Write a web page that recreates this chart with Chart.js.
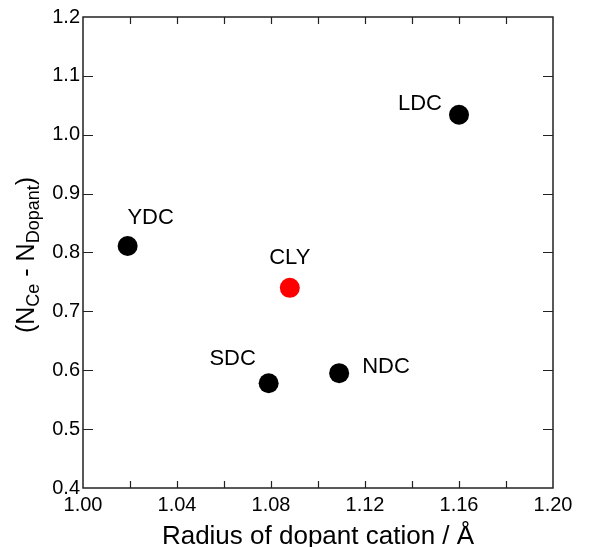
<!DOCTYPE html>
<html>
<head>
<meta charset="utf-8">
<script src="https://cdn.jsdelivr.net/npm/chart.js@4"></script>
<style>
  html, body { margin: 0; padding: 0; background: #fff; }
  #wrap { width: 589px; height: 547px; }
</style>
</head>
<body>
<div id="wrap"><canvas id="dopantChart" width="589" height="547"></canvas></div>
<script>
// dopant systems, ionic radius of the dopant cation (Å) and N_Ce - N_Dopant
const dopants = ['YDC', 'CLY', 'SDC', 'NDC', 'LDC'];
const cationRadius = [1.019, 1.088, 1.079, 1.109, 1.160];
const nDifference = [0.811, 0.740, 0.578, 0.595, 1.034];

const xTicks = [1.00, 1.04, 1.08, 1.12, 1.16, 1.20];
const yTicks = [0.4, 0.5, 0.6, 0.7, 0.8, 0.9, 1.0, 1.1, 1.2];

const FONT = 'Arial, "Liberation Sans", sans-serif';

// where each name sits relative to its marker
const labelPos = {
    YDC: [23, -28, 'center'],
    CLY: [0, -30, 'center'],
    SDC: [-36, -24, 'center'],
    NDC: [23, -6, 'left'],
    LDC: [-17, -11, 'right']
};

const framePlugin = {
    id: 'frame',
    afterDraw(chart) {
        const ctx = chart.ctx;
        const a = chart.chartArea;
        const xs = chart.scales.x, ys = chart.scales.y;
        ctx.save();
        ctx.strokeStyle = '#222';
        ctx.lineWidth = 1.5;
        ctx.strokeRect(a.left, a.top, a.right - a.left, a.bottom - a.top);

        // inward ticks, every 0.02 along x and every 0.1 along y
        ctx.lineWidth = 1.2;
        ctx.beginPath();
        for (let v = 1.02; v < 1.199; v += 0.02) {
            const px = Math.round(xs.getPixelForValue(v)) + 0.5;
            ctx.moveTo(px, a.bottom); ctx.lineTo(px, a.bottom - 7);
            ctx.moveTo(px, a.top); ctx.lineTo(px, a.top + 7);
        }
        yTicks.slice(1, -1).forEach(v => {
            const py = Math.round(ys.getPixelForValue(v)) + 0.5;
            ctx.moveTo(a.left, py); ctx.lineTo(a.left + 10, py);
            ctx.moveTo(a.right, py); ctx.lineTo(a.right - 10, py);
        });
        ctx.stroke();

        // point names
        ctx.fillStyle = '#000';
        ctx.font = '22px ' + FONT;
        ctx.textBaseline = 'middle';
        dopants.forEach((name, i) => {
            const p = labelPos[name];
            ctx.textAlign = p[2];
            ctx.fillText(name,
                xs.getPixelForValue(cationRadius[i]) + p[0],
                ys.getPixelForValue(nDifference[i]) + p[1]);
        });

        // x title
        ctx.font = '26px ' + FONT;
        ctx.textAlign = 'center';
        ctx.textBaseline = 'alphabetic';
        ctx.fillText('Radius of dopant cation / Å', (a.left + a.right) / 2, 544);

        // y title with subscripts, rotated
        const parts = [
            ['(N', false], ['Ce', true], [' - N', false], ['Dopant', true], [')', false]
        ];
        const big = '25px ' + FONT, small = '18px ' + FONT;
        let total = 0;
        parts.forEach(([t, sub]) => { ctx.font = sub ? small : big; total += ctx.measureText(t).width; });
        ctx.translate(34, 255);
        ctx.rotate(-Math.PI / 2);
        ctx.textAlign = 'left';
        let x = -total / 2;
        parts.forEach(([t, sub]) => {
            ctx.font = sub ? small : big;
            ctx.fillText(t, x, sub ? 5 : 0);
            x += ctx.measureText(t).width;
        });
        ctx.restore();
    }
};

new Chart(document.getElementById('dopantChart').getContext('2d'), {
    type: 'scatter',
    data: {
        datasets: [{
            data: cationRadius.map((r, i) => ({ x: r, y: nDifference[i] })),
            pointRadius: 10,
            pointHoverRadius: 10,
            pointBorderWidth: 0,
            pointBackgroundColor: dopants.map(d => d === 'CLY' ? '#ff0000' : '#000000'),
            pointBorderColor: dopants.map(d => d === 'CLY' ? '#ff0000' : '#000000')
        }]
    },
    options: {
        responsive: false,
        animation: false,
        layout: { padding: { top: 17, right: 36, left: 0, bottom: 0 } },
        plugins: { legend: { display: false }, tooltip: { enabled: false } },
        scales: {
            x: {
                type: 'linear',
                min: 1.0, max: 1.2,
                afterBuildTicks: s => { s.ticks = xTicks.map(v => ({ value: v })); },
                afterFit: s => { s.height = 59; },
                grid: { display: false, drawTicks: false },
                border: { display: false },
                ticks: {
                    padding: 5,
                    color: '#000',
                    font: { size: 20, family: FONT },
                    maxRotation: 0,
                    callback: v => Number(v).toFixed(2)
                }
            },
            y: {
                type: 'linear',
                min: 0.4, max: 1.2,
                afterBuildTicks: s => { s.ticks = yTicks.map(v => ({ value: v })); },
                afterFit: s => { s.width = 83; },
                grid: { display: false, drawTicks: false },
                border: { display: false },
                ticks: {
                    padding: 3,
                    color: '#000',
                    font: { size: 20, family: FONT },
                    callback: v => Number(v).toFixed(1)
                }
            }
        }
    },
    plugins: [framePlugin]
});
</script>
</body>
</html>
